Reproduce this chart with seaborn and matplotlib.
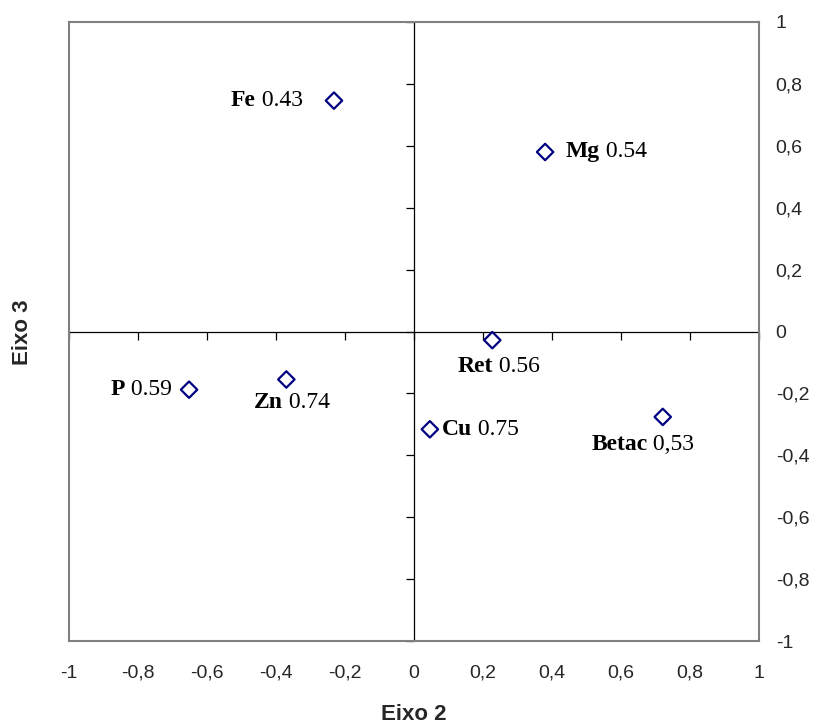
import numpy as np
import pandas as pd
import seaborn as sns
import matplotlib.pyplot as plt
from matplotlib.offsetbox import TextArea, HPacker, AnnotationBbox

# Coordenadas das variáveis nos eixos 2 e 3
nomes = ["Fe", "Mg", "Ret", "P", "Zn", "Cu", "Betac"]
eixo2 = [-0.232, 0.380, 0.227, -0.652, -0.370, 0.046, 0.721]
eixo3 = [0.746, 0.580, -0.028, -0.188, -0.155, -0.316, -0.276]
valores = ["0.43", "0.54", "0.56", "0.59", "0.74", "0.75", "0,53"]

ticks = [-1, -0.8, -0.6, -0.4, -0.2, 0, 0.2, 0.4, 0.6, 0.8, 1]
tick_labels = ["-1", "-0,8", "-0,6", "-0,4", "-0,2", "0", "0,2", "0,4", "0,6", "0,8", "1"]

df = pd.DataFrame({"nome": nomes, "x": eixo2, "y": eixo3, "valor": valores})

sns.set_theme(style="white")
plt.rcParams["font.family"] = ["Liberation Sans", "DejaVu Sans"]

fig = plt.figure(figsize=(8.18, 7.27), dpi=100)
ax = fig.add_axes([69 / 818, 86 / 727, 690 / 818, 619 / 727])

sns.scatterplot(data=df, x="x", y="y", ax=ax, marker="D", s=70,
                facecolor="none", edgecolor="#000080", linewidth=1.6, zorder=3)

# eixos cruzando em zero
ax.axhline(0, color="black", lw=0.9, zorder=1)
ax.axvline(0, color="black", lw=0.9, zorder=1)
ax.plot(ticks, np.zeros(len(ticks)), ls="none", marker=3, ms=6, mew=0.9,
        color="black", clip_on=False, zorder=1)
ax.plot(np.zeros(len(ticks)), ticks, ls="none", marker=0, ms=6, mew=0.9,
        color="black", clip_on=False, zorder=1)

# rótulos dos pontos: nome em negrito + valor
offsets = {
    "Fe": (-31, 0, 1.0),
    "Mg": (21, 0, 0.0),
    "Ret": (6, -26, 0.5),
    "P": (-17, 0, 1.0),
    "Zn": (6, -23, 0.5),
    "Cu": (12, 0, 0.0),
    "Betac": (-20, -28, 0.5),
}
serif = dict(family="Liberation Serif", size=17, color="black")
for _, r in df.iterrows():
    dx, dy, al = offsets[r["nome"]]
    nome = TextArea(r["nome"], textprops=dict(serif, weight="bold"))
    valor = TextArea(" " + r["valor"], textprops=serif)
    caixa = HPacker(children=[nome, valor], align="baseline", pad=0, sep=0)
    ab = AnnotationBbox(caixa, (r["x"], r["y"]), xybox=(dx, dy),
                        boxcoords="offset pixels", box_alignment=(al, 0.5),
                        frameon=False, pad=0)
    ax.add_artist(ab)

ax.set_xlim(-1, 1)
ax.set_ylim(-1, 1)
ax.set_xticks(ticks)
ax.set_xticklabels(tick_labels)
ax.set_yticks(ticks)
ax.set_yticklabels(tick_labels)
ax.yaxis.tick_right()
ax.tick_params(axis="x", length=0, pad=17, labelsize=14)
ax.tick_params(axis="y", length=0, pad=12, labelsize=14)
for s in ax.spines.values():
    s.set_color("#808080")
    s.set_linewidth(1.5)

ax.set_xlabel("")
ax.set_ylabel("")
fig.text(414 / 818, 1 - 714 / 727, "Eixo 2", ha="center", va="center",
         fontsize=16, fontweight="bold")
fig.text(22 / 818, 1 - 332 / 727, "Eixo 3", ha="center", va="center",
         fontsize=16, fontweight="bold", rotation=90)

fig.savefig("out.png", dpi=100)
